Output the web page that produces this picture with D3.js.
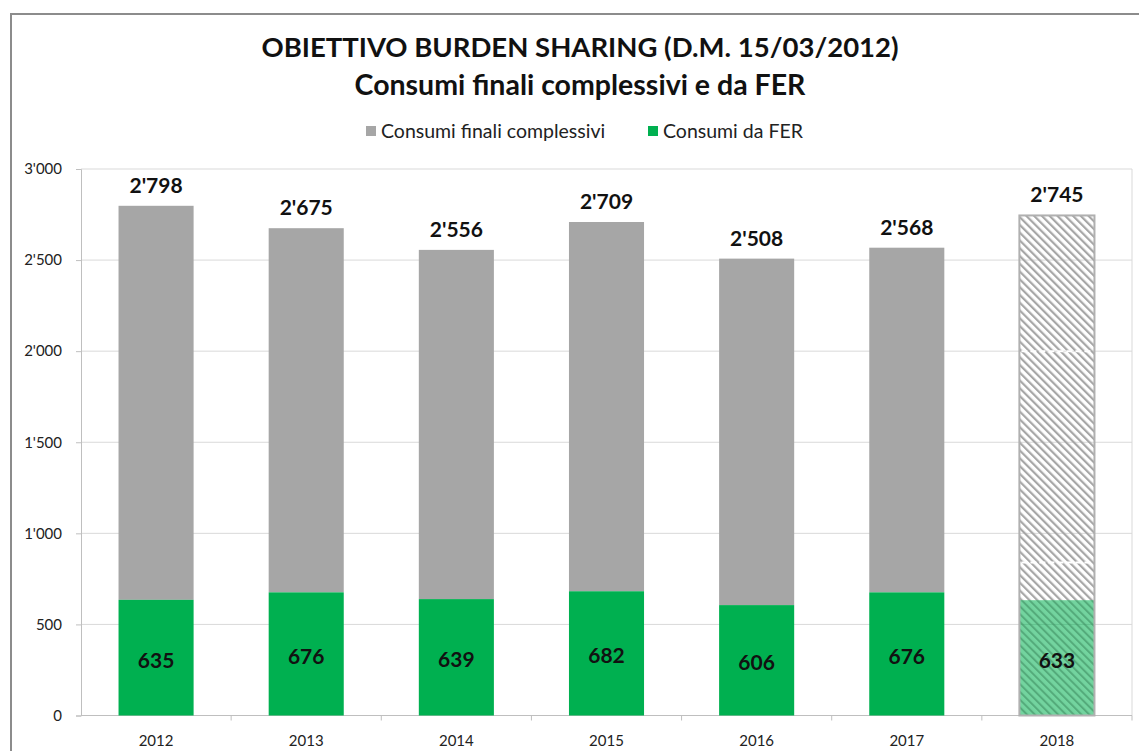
<!DOCTYPE html>
<html lang="it">
<head>
<meta charset="UTF-8">
<title>Obiettivo Burden Sharing</title>
<script src="https://cdn.jsdelivr.net/npm/d3@7"></script>
<style>
  body { margin: 0; background: #fff; }
  text { font-family: Lato, "Open Sans", sans-serif; }
</style>
</head>
<body>
<script>
    // data (ktep)
    const years = ["2012", "2013", "2014", "2015", "2016", "2017", "2018"];
    const totali = [2798, 2675, 2556, 2709, 2508, 2568, 2745];
    const fer = [635, 676, 639, 682, 606, 676, 633];
    const yTicks = [0, 500, 1000, 1500, 2000, 2500, 3000];
    const stimaYear = "2018";          // drawn hatched (estimate)
    const stimaBreaks = [840, 2000];   // faint dashed seams in the hatched bar

    const width = 1139, height = 751;
    const margin = ({top: 169, right: 7, bottom: 35, left: 81});
    const grey = "#a6a6a6", green = "#00b050";

    const fmt = v => {
        const s = String(v);
        return s.length > 3 ? s.slice(0, -3) + "'" + s.slice(-3) : s;
    };

    const svg = d3.select("body").append("svg")
        .attr("width", width)
        .attr("height", height);

    const defs = svg.append("defs");
    defs.append("pattern")
        .attr("id", "hatch")
        .attr("patternUnits", "userSpaceOnUse")
        .attr("width", 5.5).attr("height", 10)
        .attr("patternTransform", "rotate(-45)")
        .append("rect")
        .attr("width", 2.2).attr("height", 10)
        .attr("fill", grey);
    defs.append("pattern")
        .attr("id", "hatchDark")
        .attr("patternUnits", "userSpaceOnUse")
        .attr("width", 5.5).attr("height", 10)
        .attr("patternTransform", "rotate(-45)")
        .append("rect")
        .attr("width", 2).attr("height", 10)
        .attr("fill", "#3f8f63").attr("opacity", 0.6);

    // outer frame (runs off the picture on right and bottom)
    svg.append("rect")
        .attr("x", 11).attr("y", 14)
        .attr("width", 1200).attr("height", 800)
        .attr("fill", "none")
        .attr("stroke", "#8c8c8c")
        .attr("stroke-width", 2);

    const x = d3.scaleBand()
        .domain(years)
        .range([margin.left, width - margin.right])
        .paddingInner(0.5).paddingOuter(0.25);

    const y = d3.scaleLinear()
        .domain([0, 3000])
        .range([height - margin.bottom - 0.5, margin.top]);

    // gridlines
    svg.append("g")
        .selectAll("line")
        .data(yTicks.slice(1))
        .join("line")
        .attr("x1", margin.left).attr("x2", width - margin.right)
        .attr("y1", d => y(d)).attr("y2", d => y(d))
        .attr("stroke", "#d9d9d9").attr("stroke-width", 1);

    // right edge of plot area
    svg.append("line")
        .attr("x1", width - margin.right).attr("x2", width - margin.right)
        .attr("y1", margin.top).attr("y2", y(0))
        .attr("stroke", "#d9d9d9");

    // y axis
    const yAxis = svg.append("g")
        .attr("transform", `translate(${margin.left},0)`)
        .call(d3.axisLeft(y).tickValues(yTicks).tickFormat(fmt).tickSize(5).tickPadding(14));
    yAxis.select(".domain").attr("stroke", "#bfbfbf");
    yAxis.selectAll(".tick line").attr("stroke", "#bfbfbf");
    yAxis.selectAll(".tick text")
        .attr("font-size", 15).attr("fill", "#222")
        .style("font-family", "Lato, sans-serif");

    // x axis with ticks between categories
    const xg = svg.append("g").attr("transform", `translate(0,${y(0)})`);
    xg.append("line")
        .attr("x1", margin.left).attr("x2", width - margin.right)
        .attr("stroke", "#bfbfbf");
    const step = x.step();
    xg.selectAll(".sep")
        .data(years)
        .join("line")
        .attr("class", "sep")
        .attr("x1", d => x(d) + x.bandwidth() / 2 + step / 2)
        .attr("x2", d => x(d) + x.bandwidth() / 2 + step / 2)
        .attr("y1", 0).attr("y2", 5)
        .attr("stroke", "#bfbfbf");
    xg.selectAll(".lab")
        .data(years)
        .join("text")
        .attr("class", "lab")
        .attr("x", d => x(d) + x.bandwidth() / 2)
        .attr("y", 30)
        .attr("text-anchor", "middle")
        .attr("font-size", 15)
        .attr("fill", "#222")
        .text(d => d);

    const rows = years.map((yr, i) => ({yr, tot: totali[i], fer: fer[i]}));
    const real = rows.filter(d => d.yr !== stimaYear);
    const stima = rows.filter(d => d.yr === stimaYear);

    // solid bars
    svg.append("g").selectAll("rect")
        .data(real)
        .join("rect")
        .attr("x", d => x(d.yr)).attr("width", x.bandwidth())
        .attr("y", d => y(d.tot)).attr("height", d => y(d.fer) - y(d.tot))
        .attr("fill", grey);
    svg.append("g").selectAll("rect")
        .data(real)
        .join("rect")
        .attr("x", d => x(d.yr)).attr("width", x.bandwidth())
        .attr("y", d => y(d.fer)).attr("height", d => y(0) - y(d.fer))
        .attr("fill", green);

    // estimated bar
    const sg = svg.append("g");
    sg.selectAll(".tot")
        .data(stima)
        .join("rect")
        .attr("x", d => x(d.yr)).attr("width", x.bandwidth())
        .attr("y", d => y(d.tot)).attr("height", d => y(d.fer) - y(d.tot))
        .attr("fill", "url(#hatch)");
    sg.selectAll(".fer")
        .data(stima)
        .join("rect")
        .attr("x", d => x(d.yr)).attr("width", x.bandwidth())
        .attr("y", d => y(d.fer)).attr("height", d => y(0) - y(d.fer))
        .attr("fill", green).attr("fill-opacity", 0.55);
    sg.selectAll(".ferh")
        .data(stima)
        .join("rect")
        .attr("x", d => x(d.yr)).attr("width", x.bandwidth())
        .attr("y", d => y(d.fer)).attr("height", d => y(0) - y(d.fer))
        .attr("fill", "url(#hatchDark)");
    sg.selectAll(".seam")
        .data(stimaBreaks)
        .join("line")
        .attr("x1", x(stimaYear) + 2).attr("x2", x(stimaYear) + x.bandwidth() - 2)
        .attr("y1", d => y(d)).attr("y2", d => y(d))
        .attr("stroke", "#fff").attr("stroke-width", 2)
        .attr("stroke-dasharray", "6,3");
    sg.selectAll(".outline")
        .data(stima)
        .join("rect")
        .attr("x", d => x(d.yr)).attr("width", x.bandwidth())
        .attr("y", d => y(d.tot)).attr("height", d => y(0) - y(d.tot))
        .attr("fill", "none")
        .attr("stroke", "#b0b0b0").attr("stroke-width", 2);

    // value labels
    svg.append("g").selectAll("text")
        .data(rows)
        .join("text")
        .attr("x", d => x(d.yr) + x.bandwidth() / 2)
        .attr("y", d => y(d.tot) - 13)
        .attr("text-anchor", "middle")
        .attr("font-size", 21).attr("font-weight", 700)
        .attr("fill", "#111")
        .text(d => fmt(d.tot));
    svg.append("g").selectAll("text")
        .data(rows)
        .join("text")
        .attr("x", d => x(d.yr) + x.bandwidth() / 2)
        .attr("y", d => (y(0) + y(d.fer)) / 2 + 10)
        .attr("text-anchor", "middle")
        .attr("font-size", 21).attr("font-weight", 700)
        .attr("fill", "#111")
        .text(d => fmt(d.fer));

    // title
    svg.append("text")
        .attr("x", 580).attr("y", 57)
        .attr("text-anchor", "middle")
        .attr("font-size", 27.5).attr("font-weight", 700)
        .attr("fill", "#111")
        .text("OBIETTIVO BURDEN SHARING (D.M. 15/03/2012)");
    svg.append("text")
        .attr("x", 580).attr("y", 95)
        .attr("text-anchor", "middle")
        .attr("font-size", 28.5).attr("font-weight", 700)
        .attr("fill", "#111")
        .text("Consumi finali complessivi e da FER");

    // legend
    const legend = [
        {label: "Consumi finali complessivi", color: grey, x: 366},
        {label: "Consumi da FER", color: green, x: 648}
    ];
    const lg = svg.append("g").selectAll("g")
        .data(legend)
        .join("g")
        .attr("transform", d => `translate(${d.x},126)`);
    lg.append("rect")
        .attr("width", 10).attr("height", 10)
        .attr("fill", d => d.color);
    lg.append("text")
        .attr("x", 15).attr("y", 12)
        .attr("font-size", 19.5)
        .attr("fill", "#222")
        .text(d => d.label);
</script>
</body>
</html>
